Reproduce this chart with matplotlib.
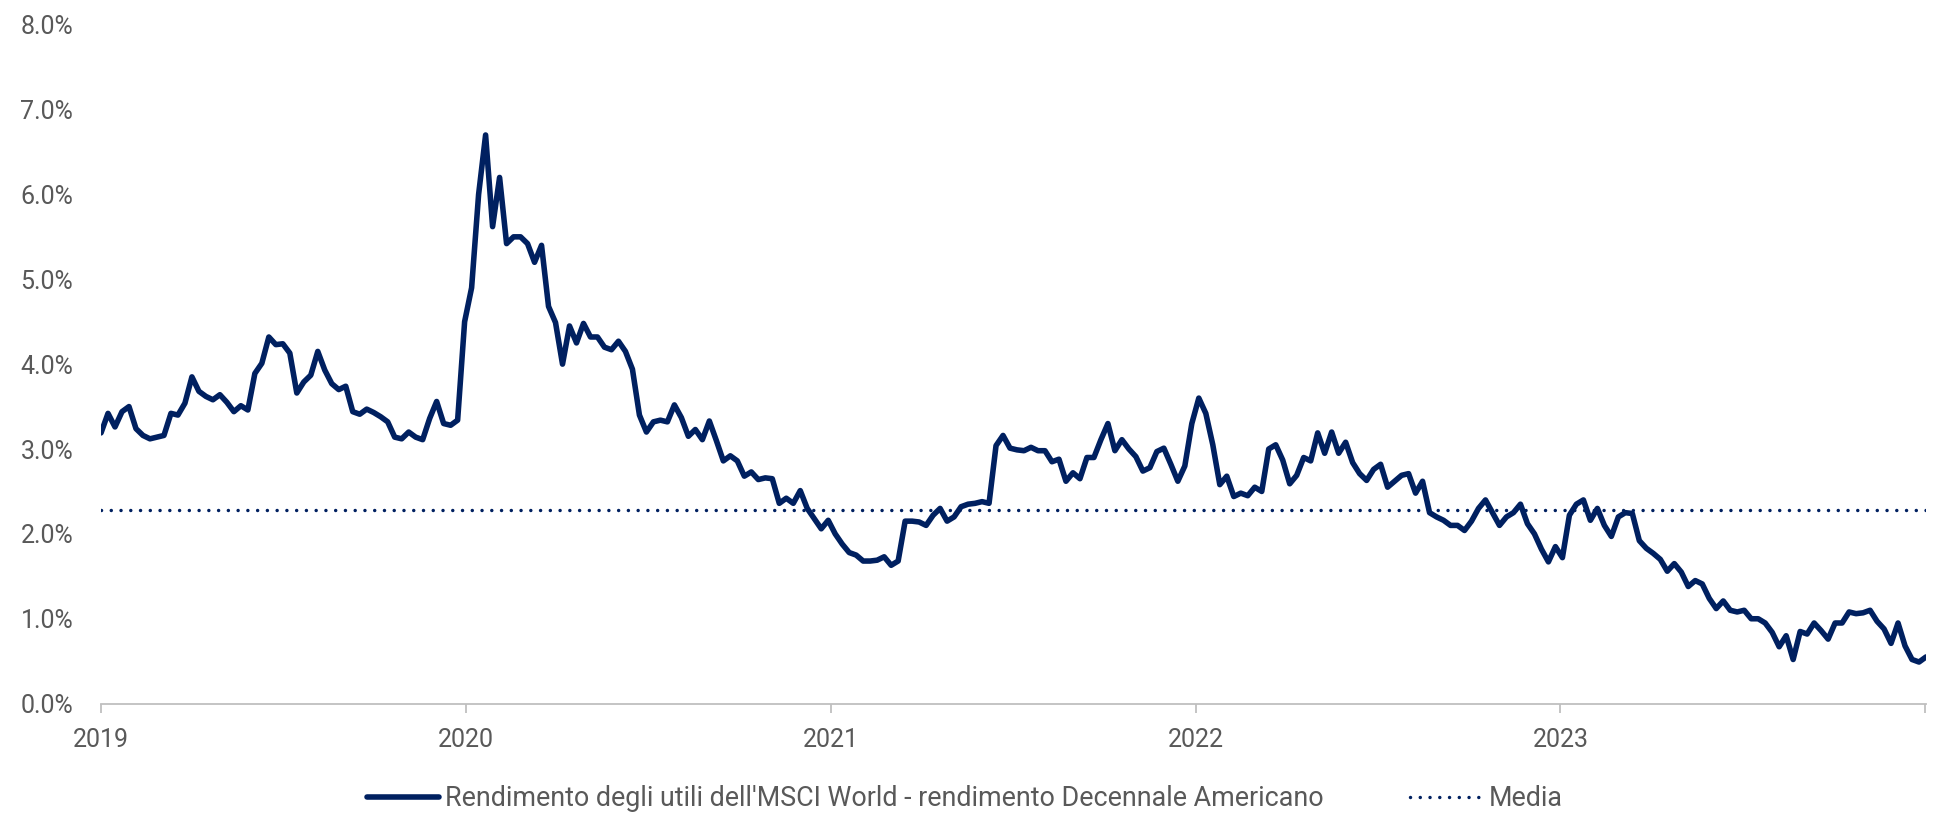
import matplotlib
matplotlib.use('Agg')
import matplotlib.pyplot as plt
import pandas as pd

plt.rcParams['font.family'] = ['Roboto', 'DejaVu Sans']

# ---- data (weekly readings, % ) ----
start_date = '2019-01-01'
spread = [
    3.19, 3.42, 3.26, 3.44, 3.50, 3.24, 3.16, 3.12, 3.14, 3.16,
    3.42, 3.40, 3.54, 3.85, 3.68, 3.62, 3.58, 3.64, 3.55, 3.44,
    3.51, 3.46, 3.89, 4.01, 4.32, 4.23, 4.24, 4.13, 3.66, 3.79,
    3.87, 4.15, 3.93, 3.77, 3.70, 3.74, 3.44, 3.41, 3.47, 3.43,
    3.38, 3.32, 3.14, 3.12, 3.20, 3.14, 3.11, 3.36, 3.56, 3.30,
    3.28, 3.34, 4.50, 4.90, 6.00, 6.70, 5.62, 6.20, 5.42, 5.50,
    5.50, 5.42, 5.20, 5.40, 4.68, 4.49, 4.00, 4.45, 4.25, 4.48,
    4.32, 4.32, 4.20, 4.17, 4.27, 4.15, 3.94, 3.40, 3.20, 3.32,
    3.34, 3.32, 3.52, 3.37, 3.15, 3.23, 3.11, 3.33, 3.10, 2.86,
    2.92, 2.86, 2.68, 2.73, 2.64, 2.66, 2.65, 2.36, 2.42, 2.36,
    2.51, 2.30, 2.18, 2.06, 2.16, 2.00, 1.88, 1.78, 1.75, 1.68,
    1.68, 1.69, 1.73, 1.63, 1.68, 2.15, 2.15, 2.14, 2.10, 2.22,
    2.30, 2.15, 2.20, 2.32, 2.35, 2.36, 2.38, 2.36, 3.04, 3.16,
    3.01, 2.99, 2.98, 3.02, 2.98, 2.98, 2.85, 2.88, 2.62, 2.72,
    2.65, 2.90, 2.90, 3.11, 3.30, 2.98, 3.11, 3.00, 2.91, 2.74,
    2.78, 2.97, 3.01, 2.82, 2.62, 2.80, 3.30, 3.60, 3.42, 3.05,
    2.58, 2.68, 2.44, 2.48, 2.45, 2.55, 2.50, 3.00, 3.05, 2.87,
    2.59, 2.69, 2.90, 2.86, 3.19, 2.95, 3.20, 2.95, 3.08, 2.84,
    2.71, 2.63, 2.76, 2.82, 2.55, 2.62, 2.69, 2.71, 2.48, 2.62,
    2.25, 2.20, 2.16, 2.10, 2.10, 2.04, 2.15, 2.30, 2.40, 2.25,
    2.10, 2.20, 2.25, 2.35, 2.12, 2.00, 1.82, 1.67, 1.85, 1.72,
    2.22, 2.35, 2.40, 2.16, 2.30, 2.10, 1.97, 2.20, 2.25, 2.24,
    1.92, 1.83, 1.77, 1.70, 1.56, 1.65, 1.55, 1.38, 1.45, 1.41,
    1.24, 1.12, 1.21, 1.10, 1.08, 1.10, 1.00, 1.00, 0.95, 0.84,
    0.67, 0.80, 0.52, 0.85, 0.82, 0.95, 0.86, 0.76, 0.95, 0.95,
    1.08, 1.06, 1.07, 1.10, 0.97, 0.88, 0.71, 0.95, 0.68, 0.52,
    0.49, 0.55,
]
media = 2.28
year_ticks = ['2019-01-01', '2020-01-01', '2021-01-01', '2022-01-01',
              '2023-01-01', '2024-01-01']
year_labels = ['2019', '2020', '2021', '2022', '2023', '']
y_ticks = [0, 1, 2, 3, 4, 5, 6, 7, 8]

series_label = "Rendimento degli utili dell'MSCI World - rendimento Decennale Americano"
media_label = "Media"

navy = '#002060'
grey_text = '#595959'
axis_grey = '#bfbfbf'

dates = pd.date_range(start_date, periods=len(spread), freq='7D')

fig = plt.figure(figsize=(19.39, 8.14), dpi=100)
ax = fig.add_axes([0.0521, 0.1356, 0.9412, 0.8341])

ax.plot(dates, spread, color=navy, lw=4.0, solid_joinstyle='round',
        solid_capstyle='round', label=series_label, zorder=3)
ax.plot([dates[0], dates[-1]], [media, media], color=navy, lw=2.5,
        linestyle=(0, (0.01, 2.8)), dash_capstyle='round', label=media_label,
        zorder=2)

ax.set_ylim(0, 8)
ax.set_xlim(dates[0], dates[-1])
ax.set_yticks(y_ticks)
ax.set_yticklabels([f'{v:.1f}%' for v in y_ticks])
ax.set_xticks(pd.to_datetime(year_ticks))
ax.set_xticklabels(year_labels)

for s in ['top', 'right', 'left']:
    ax.spines[s].set_visible(False)
ax.spines['bottom'].set_color(axis_grey)
ax.spines['bottom'].set_linewidth(1.3)

ax.tick_params(axis='y', length=0, pad=20, labelsize=18, labelcolor=grey_text)
ax.tick_params(axis='x', length=6.7, width=1.3, color=axis_grey, pad=10.5,
               labelsize=18, labelcolor=grey_text)

fig.legend(loc='center', bbox_to_anchor=(0.4975, 1 - 799 / 814), ncol=2,
           frameon=False, fontsize=19.4, labelcolor=grey_text,
           handlelength=2.7, handletextpad=0.22, columnspacing=3.2,
           borderaxespad=0, borderpad=0)

fig.savefig('out.png', dpi=100)
